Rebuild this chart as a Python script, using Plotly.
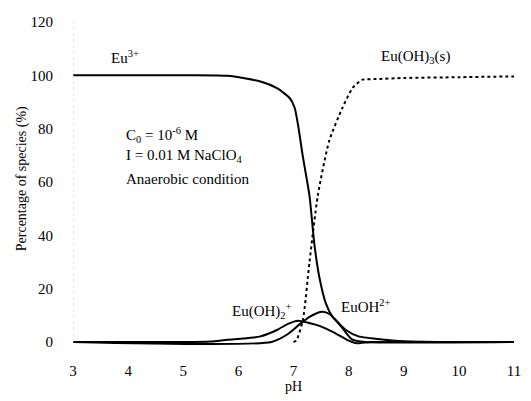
import plotly.graph_objects as go

# Eu3+ (solid)
ph_eu3 = [3, 4, 5, 5.8, 6.4, 6.7, 6.93, 7.02, 7.08, 7.17, 7.29, 7.38, 7.47, 7.59, 7.71, 7.95, 8.18, 8.66, 9, 10, 11]
val_eu3 = [100, 100, 100, 99.8, 97.7, 95.2, 91.5, 87.9, 81.7, 69.5, 54.8, 36.4, 24.2, 14.3, 9.4, 4.5, 2.1, 0.85, 0.3, 0, 0]

# Eu(OH)3(s) (dotted)
ph_s = [7.0, 7.05, 7.17, 7.29, 7.44, 7.65, 7.89, 8.07, 8.24, 8.5, 9, 10, 11]
val_s = [0, 0.5, 8.2, 30, 54.8, 75.6, 87.9, 95.2, 98.3, 98.6, 99, 99.3, 99.6]

# Eu(OH)2+ (solid, peak near pH 7)
ph_a = [3, 5, 5.5, 5.8, 6.1, 6.4, 6.7, 6.9, 7.08, 7.25, 7.4, 7.59, 7.8, 8.0, 8.15, 8.4, 9, 11]
val_a = [0, 0, 0.2, 0.85, 1.3, 2.1, 4.5, 6.8, 8.0, 7.3, 6.5, 5.0, 2.8, 0.5, -0.5, 0, 0, 0]

# EuOH2+ (solid, peak near pH 7.5)
ph_b = [3, 6.6, 6.9, 7.11, 7.29, 7.42, 7.53, 7.65, 7.8, 7.95, 8.07, 8.3, 11]
val_b = [0, 0, 3, 6.6, 9.4, 10.8, 11.3, 10.5, 7.5, 3.5, 0.85, 0, 0]

FAMILY = "Liberation Serif, Times New Roman, serif"

fig = go.Figure()
line_solid = dict(color="black", width=2, shape="spline", smoothing=0.6)
fig.add_trace(go.Scatter(x=ph_eu3, y=val_eu3, mode="lines", line=line_solid, cliponaxis=False))
fig.add_trace(go.Scatter(x=ph_a, y=val_a, mode="lines", line=line_solid, cliponaxis=False))
fig.add_trace(go.Scatter(x=ph_b, y=val_b, mode="lines", line=line_solid, cliponaxis=False))
fig.add_trace(go.Scatter(x=ph_s, y=val_s, mode="lines",
                         line=dict(color="black", width=2, dash="dot", shape="spline", smoothing=0.6),
                         cliponaxis=False))

font = dict(family=FAMILY, size=15, color="black")

ann = [
    dict(x=3.95, y=106.8, text="Eu<sup>3+</sup>", xanchor="center"),
    dict(x=9.21, y=106.8, text="Eu(OH)<sub>3</sub>(s)", xanchor="center"),
    dict(x=3.92, y=77.8, text="C<sub>0</sub> = 10<sup>-6</sup> M", xanchor="left"),
    dict(x=3.92, y=69.7, text="I = 0.01 M NaClO<sub>4</sub>", xanchor="left"),
    dict(x=3.92, y=61.2, text="Anaerobic condition", xanchor="left"),
    dict(x=6.43, y=11.6, text="Eu(OH)<sub>2</sub><sup>+</sup>", xanchor="center"),
    dict(x=8.32, y=13.4, text="EuOH<sup>2+</sup>", xanchor="center"),
]
annotations = [dict(a, showarrow=False, yanchor="middle", font=font) for a in ann]
annotations.append(dict(xref="paper", yref="paper", x=-0.114, y=0.517, text="Percentage of species (%)",
                        textangle=-90, showarrow=False,
                        font=dict(family=FAMILY, size=14, color="black"),
                        xanchor="center", yanchor="middle"))

fig.update_layout(
    width=531, height=401,
    margin=dict(l=73, r=10, t=22, b=48),
    paper_bgcolor="white", plot_bgcolor="white",
    showlegend=False,
    annotations=annotations,
    font=font,
    shapes=[
        dict(type="line", xref="x", yref="y", x0=3, x1=3, y0=0, y1=120,
             line=dict(color="#d0d0d0", width=1, dash="dot")),
    ],
)
fig.update_xaxes(range=[3, 11], tickvals=[3, 4, 5, 6, 7, 8, 9, 10, 11], showgrid=False, zeroline=False,
                 showline=False, ticks="outside", ticklen=11, tickcolor="rgba(0,0,0,0)",
                 title=dict(text="pH", font=dict(family=FAMILY, size=14), standoff=2),
                 tickfont=font)
fig.update_yaxes(range=[-1.5, 120], tickvals=[0, 20, 40, 60, 80, 100, 120], showgrid=False, zeroline=False,
                 showline=False, ticks="outside", ticklen=16, tickcolor="rgba(0,0,0,0)",
                 tickfont=font)

fig.write_html("out.html")
